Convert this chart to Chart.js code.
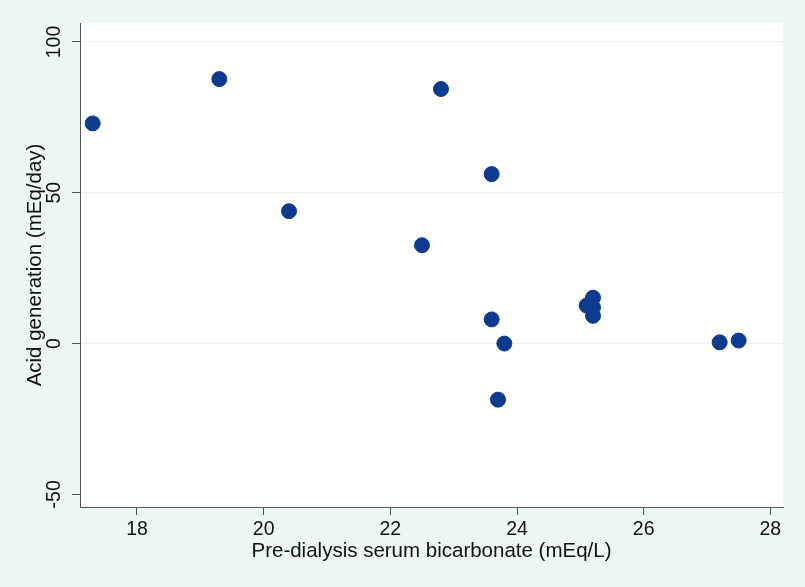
<!DOCTYPE html>
<html>
<head>
<meta charset="utf-8">
<script src="https://cdn.jsdelivr.net/npm/chart.js@4"></script>
<style>
  html, body { margin: 0; padding: 0; background: #edf7f4; }
  #wrap { width: 805px; height: 587px; }
</style>
</head>
<body>
<div id="wrap"><canvas id="myChart"></canvas></div>
<script>
// Pre-dialysis serum bicarbonate (mEq/L)
const bicarbonate = [17.3, 19.3, 22.8, 20.4, 23.6, 22.5, 23.6, 23.8, 23.7, 25.2, 25.1, 25.2, 25.2, 27.2, 27.5]
// Acid generation (mEq/day)
const acidGeneration = [73, 87.7, 84.4, 43.9, 56.2, 32.6, 8, 0, -18.6, 15.2, 12.6, 12, 9.2, 0.4, 1]
const xTicks = [18, 20, 22, 24, 26, 28]
const yTicks = [-50, 0, 50, 100]

const points = bicarbonate.map((x, i) => ({ x: x, y: acidGeneration[i] }))

const plotBackground = {
  id: 'plotBackground',
  beforeDraw (chart) {
    const { ctx, chartArea } = chart
    ctx.save()
    ctx.fillStyle = '#ffffff'
    ctx.fillRect(chartArea.left, chartArea.top, chartArea.right - chartArea.left, chartArea.bottom - chartArea.top)
    ctx.restore()
  }
}

const fontFamily = 'Liberation Sans, Arial, sans-serif'
const tickFont = { family: fontFamily, size: 19.5 }
const titleFont = { family: fontFamily, size: 20.5 }

new Chart(document.getElementById('myChart'), {
  type: 'scatter',
  data: {
    datasets: [{
      data: points,
      backgroundColor: '#0f3b8f',
      borderColor: '#0f3b8f',
      pointRadius: 7.5,
      pointHoverRadius: 7.5
    }]
  },
  options: {
    responsive: true,
    maintainAspectRatio: false,
    animation: false,
    layout: { padding: { top: 23, right: 22, left: 23, bottom: 23 } },
    plugins: {
      legend: { display: false },
      tooltip: { enabled: false }
    },
    scales: {
      x: {
        type: 'linear',
        min: 17.1,
        max: 28.2,
        afterBuildTicks: (scale) => { scale.ticks = xTicks.map(v => ({ value: v })) },
        afterFit: (scale) => { scale.height = 57 },
        border: { color: '#555', width: 1 },
        grid: { drawOnChartArea: false, tickLength: 8, tickColor: '#555' },
        ticks: { color: '#111', font: tickFont, padding: 3, maxRotation: 0 },
        title: {
          display: true,
          text: 'Pre-dialysis serum bicarbonate (mEq/L)',
          color: '#111',
          font: titleFont,
          padding: { top: 0, bottom: 0 }
        }
      },
      y: {
        type: 'linear',
        min: -54.2,
        max: 106.3,
        afterBuildTicks: (scale) => { scale.ticks = yTicks.map(v => ({ value: v })) },
        afterFit: (scale) => { scale.width = 57 },
        border: { color: '#555', width: 1 },
        grid: {
          color: (c) => (c.tick && c.tick.value === -50 ? 'rgba(0,0,0,0)' : '#e8f3f1'),
          tickLength: 8,
          tickColor: '#555'
        },
        ticks: { color: '#111', font: tickFont, padding: 1, minRotation: 90, maxRotation: 90, crossAlign: 'center' },
        title: {
          display: true,
          text: 'Acid generation (mEq/day)',
          color: '#111',
          font: titleFont,
          padding: { top: 0, bottom: 0 }
        }
      }
    }
  },
  plugins: [plotBackground]
})
</script>
</body>
</html>
